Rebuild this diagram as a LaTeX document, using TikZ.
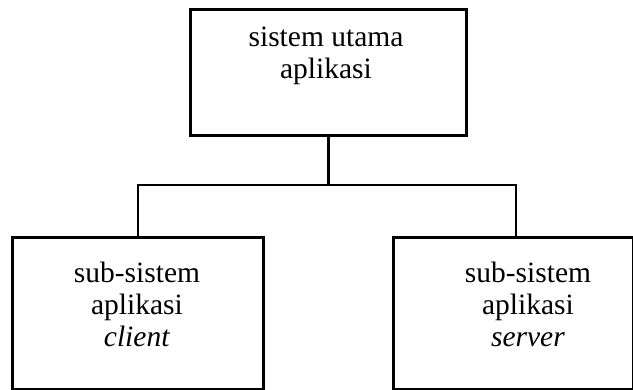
\documentclass[tikz,border=0pt]{standalone}
\usepackage{fontspec}
\setmainfont{Liberation Serif}
\begin{document}
\begin{tikzpicture}[x=1pt,y=-1pt,
  box/.style={draw,line width=2.8pt,rectangle,inner sep=0pt,anchor=north west},
  label/.style={align=center,inner sep=0pt,anchor=north,
    font=\fontsize{29.5}{32}\selectfont},
  link/.style={line width=2.8pt}]
\useasboundingbox (0,0) rectangle (633,390);
% boxes
\node[box,minimum width=276pt,minimum height=126pt] (main) at (189,8) {};
\node[box,minimum width=251pt,minimum height=152pt] (client) at (11,236) {};
\node[box,minimum width=240pt,minimum height=152pt] (server) at (392,236) {};
% texts
\node[label] (tmain) at (326,27) {sistem utama\\aplikasi};
\node[label] (tclient) at (137,262) {sub-sistem\\aplikasi\\\textit{client}};
\node[label] (tserver) at (528,262) {sub-sistem\\aplikasi\\\textit{server}};
% connectors
\coordinate (bus) at (0,185);
\coordinate (jl) at (138,236);
\coordinate (jr) at (516,236);
\draw[link] (main.south) -- (main.south |- bus);
\draw[link] (jl) -- (jl |- bus) -- (jr |- bus) -- (jr);
\end{tikzpicture}
\end{document}
